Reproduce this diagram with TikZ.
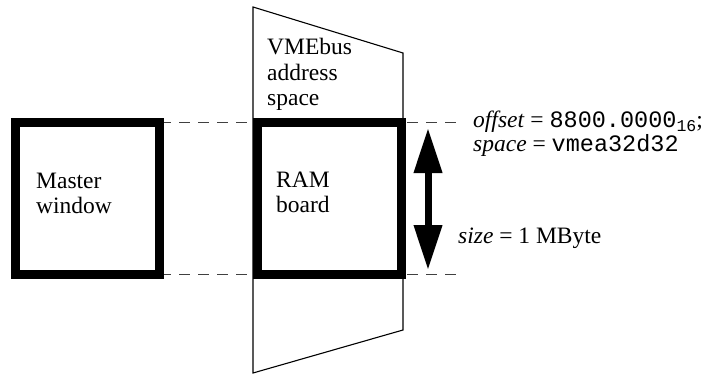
\documentclass[tikz,border=0pt]{standalone}
\usepackage{fontspec}
\setmainfont{Liberation Serif}
\setmonofont{Liberation Mono}
\usetikzlibrary{arrows.meta}
\begin{document}
\begin{tikzpicture}[x=1pt,y=-1pt,
  lbl/.style={anchor=base west,inner sep=0pt,font=\fontsize{23.5}{25}\selectfont},
  thickbox/.style={draw=black,line width=9pt,fill=white,minimum width=144pt,minimum height=152pt,inner sep=0pt,outer sep=0pt},
  dashline/.style={draw=black!75,line width=1pt,dash pattern=on 11pt off 8pt},
  bigarrow/.style={line width=7pt,{Triangle[length=45pt,width=27pt]}-{Triangle[length=45pt,width=27pt]}}]
\useasboundingbox (0,0) rectangle (711,374);
% VMEbus address space trapezoid
\draw[line width=1.1pt] (253,7) -- (403,53) -- (403,330) -- (253,373) -- cycle;
% dashed reference lines
\coordinate (topend) at (460,123);
\coordinate (botend) at (460,274);
\coordinate (topstart) at (160,123);
\coordinate (botstart) at (160,274);
\draw[dashline] (topstart) -- (topend);
\draw[dashline] (botstart) -- (botend);
% boxes
\node[thickbox] (master) at (87.5,198.5) {};
\node[thickbox] (ram) at (329.5,198.5) {};
% labels
\node[lbl] (m1) at (36,188) {Master};
\node[lbl] (m2) at (36,213) {window};
\node[lbl] (v1) at (267,55) {VMEbus};
\node[lbl] (v2) at (267,81) {address};
\node[lbl] (v3) at (267,106) {space};
\node[lbl] (r1) at (276,187) {RAM};
\node[lbl] (r2) at (276,212) {board};
\node[lbl] (off) at (473,128) {\textit{offset} = \texttt{8800.0000}\raisebox{-0.3ex}{\fontsize{16.5}{16.5}\selectfont\ttfamily 16};};
\node[lbl] (spc) at (473,152) {\textit{space} = \texttt{vmea32d32}};
\node[lbl] (sz) at (458,243) {\textit{size} = 1 MByte};
% double arrow
\coordinate (atop) at (428,128);
\coordinate (abot) at (428,270);
\draw[bigarrow] (atop) -- (abot);
\end{tikzpicture}
\end{document}
